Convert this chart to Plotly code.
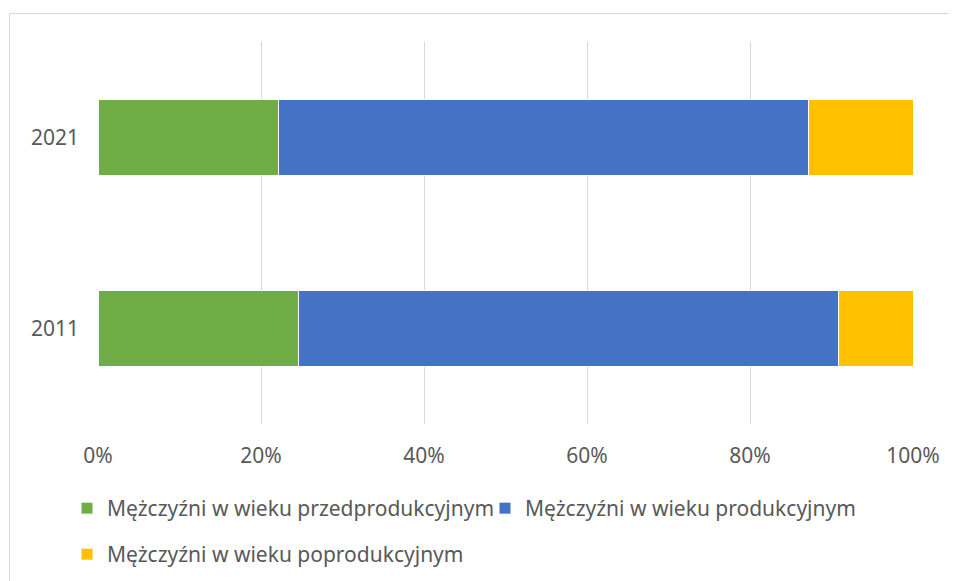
import plotly.graph_objects as go

years = ["2011", "2021"]
przed = [24.6, 22.1]
prod = [66.3, 65.1]
poprod = [9.1, 12.8]
series_names = [
    "Mężczyźni w wieku przedprodukcyjnym",
    "Mężczyźni w wieku produkcyjnym",
    "Mężczyźni w wieku poprodukcyjnym",
]
colors = ["#70AD47", "#4472C4", "#FFC000"]
x_ticks = [0, 20, 40, 60, 80, 100]
x_tick_labels = ["0%", "20%", "40%", "60%", "80%", "100%"]

FONT = "Noto Sans"
OFF = 8  # default page body margin
W, H = 957 - OFF, 581 - OFF
L, R, T, B = 98 - OFF, 44, 42 - OFF, 157
pw, ph = W - L - R, H - T - B

# legend placement (page pixels of the reference): left x, top y
legend_pos = [(67, 488), (485, 488), (67, 534)]
legend_ids = ["legend", "legend2", "legend3"]

fig = go.Figure()
for name, vals, col, lg in zip(series_names, [przed, prod, poprod], colors,
                               legend_ids):
    fig.add_trace(go.Bar(
        y=years, x=vals, name=name, orientation="h",
        marker=dict(color=col, line=dict(color="white", width=1)),
        legend=lg,
    ))

# helpers: convert page pixel positions of the reference into paper coords
def px2x(px):
    return (px - OFF - L) / pw

def py2y(py):
    return (H - B - (py - OFF)) / ph

def cx(px):
    return (px - OFF) / W

def cy(py):
    return 1 - (py - OFF) / H

legends = {}
for lid, (lx, ly) in zip(legend_ids, legend_pos):
    legends[lid] = dict(orientation="h", xref="container", yref="container",
                        x=cx(lx), xanchor="left", y=cy(ly), yanchor="top",
                        font=dict(size=21, color="#595959"),
                        bgcolor="rgba(0,0,0,0)")

fig.update_layout(
    width=W, height=H,
    margin=dict(l=L, r=R, t=T, b=B, autoexpand=False),
    barmode="stack", bargap=0.6,
    plot_bgcolor="white", paper_bgcolor="white",
    font=dict(family=FONT, size=21, color="#595959"),
    xaxis=dict(range=[0, 100], tickvals=x_ticks, ticktext=x_tick_labels,
               showgrid=True, gridcolor="#D9D9D9", gridwidth=1,
               zeroline=False, showline=False, ticks="", fixedrange=True,
               ticklabelstandoff=17, tickfont=dict(size=21)),
    yaxis=dict(showgrid=False, zeroline=False, showline=False, ticks="",
               ticklabelstandoff=18, tickfont=dict(size=21)),
    showlegend=True,
    shapes=[dict(type="rect", xref="paper", yref="paper",
                 x0=px2x(9.5), x1=px2x(1100), y0=py2y(800), y1=py2y(13.5),
                 line=dict(color="#D9D9D9", width=1), layer="below")],
    **legends,
)

fig.write_html("out.html")
